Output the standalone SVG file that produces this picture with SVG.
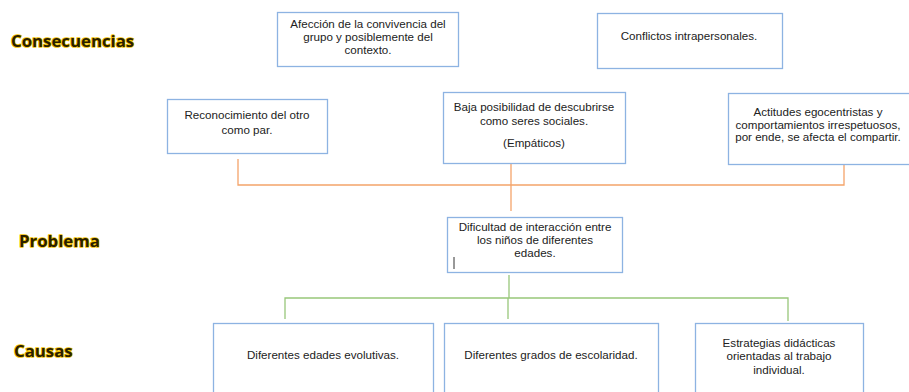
<svg xmlns="http://www.w3.org/2000/svg" width="909" height="392" viewBox="0 0 909 392">
<style>
.box{fill:#fff;stroke:#8db3e2;stroke-width:1.3}
.t{font-family:"Liberation Sans",Arial,sans-serif;font-size:11.6px;fill:#222;text-anchor:middle}
.lbl{font-family:"Open Sans","Liberation Sans",sans-serif;font-weight:bold;font-size:16.8px;fill:#2a1e00;stroke:#f2c200;stroke-width:1.6;paint-order:stroke;stroke-linejoin:round}
.or{fill:none;stroke:#f4a46a;stroke-width:1.3}
.gr{fill:none;stroke:#98c77a;stroke-width:1.3}
</style>
<rect width="909" height="392" fill="#fff"/>
<text class="lbl" x="11" y="47">Consecuencias</text>
<text class="lbl" x="19" y="247">Problema</text>
<text class="lbl" x="14" y="357">Causas</text>
<g id="connectors">
<path class="or" d="M238 159 V185 H844 V164"/>
<path class="or" d="M511 163 V211"/>
<path class="gr" d="M509 275 V298"/>
<path class="gr" d="M285 319 V298 H788 V321"/>
<path class="gr" d="M508 298 V319"/>
</g>
<g id="n-afeccion">
<rect class="box" x="277.5" y="12.5" width="181" height="54"/>
<text class="t" x="368" y="28">Afección de la convivencia del</text>
<text class="t" x="368" y="41">grupo y posiblemente del</text>
<text class="t" x="368" y="54">contexto.</text>
</g>
<g id="n-conflictos">
<rect class="box" x="597.5" y="13.5" width="185" height="55"/>
<text class="t" x="689" y="40">Conflictos intrapersonales.</text>
</g>
<g id="n-reconocimiento">
<rect class="box" x="167.5" y="99.5" width="160" height="54"/>
<text class="t" x="247" y="119">Reconocimiento del otro</text>
<text class="t" x="247" y="134">como par.</text>
</g>
<g id="n-baja">
<rect class="box" x="443.5" y="92.5" width="182" height="71"/>
<text class="t" x="534" y="111">Baja posibilidad de descubrirse</text>
<text class="t" x="534" y="125">como seres sociales.</text>
<text class="t" x="534" y="147">(Empáticos)</text>
</g>
<g id="n-actitudes">
<rect class="box" x="728.5" y="93.5" width="182" height="71"/>
<text class="t" x="818" y="116">Actitudes egocentristas y</text>
<text class="t" x="818" y="129">comportamientos irrespetuosos,</text>
<text class="t" x="818" y="141">por ende, se afecta el compartir.</text>
</g>
<g id="n-problema">
<rect class="box" x="447.5" y="217.5" width="175" height="55"/>
<text class="t" x="535" y="231">Dificultad de interacción entre</text>
<text class="t" x="535" y="244">los niños de diferentes</text>
<text class="t" x="535" y="257">edades.</text>
<line x1="454" y1="257" x2="454" y2="269" stroke="#333" stroke-width="1"/>
</g>
<g id="n-edades">
<rect class="box" x="213.5" y="323.5" width="220" height="80"/>
<text class="t" x="323" y="359">Diferentes edades evolutivas.</text>
</g>
<g id="n-grados">
<rect class="box" x="444.5" y="323.5" width="214" height="80"/>
<text class="t" x="551" y="359">Diferentes grados de escolaridad.</text>
</g>
<g id="n-estrategias">
<rect class="box" x="695.5" y="323.5" width="168" height="80"/>
<text class="t" x="779" y="347">Estrategias didácticas</text>
<text class="t" x="779" y="360">orientadas al trabajo</text>
<text class="t" x="779" y="374">individual.</text>
</g>
</svg>
